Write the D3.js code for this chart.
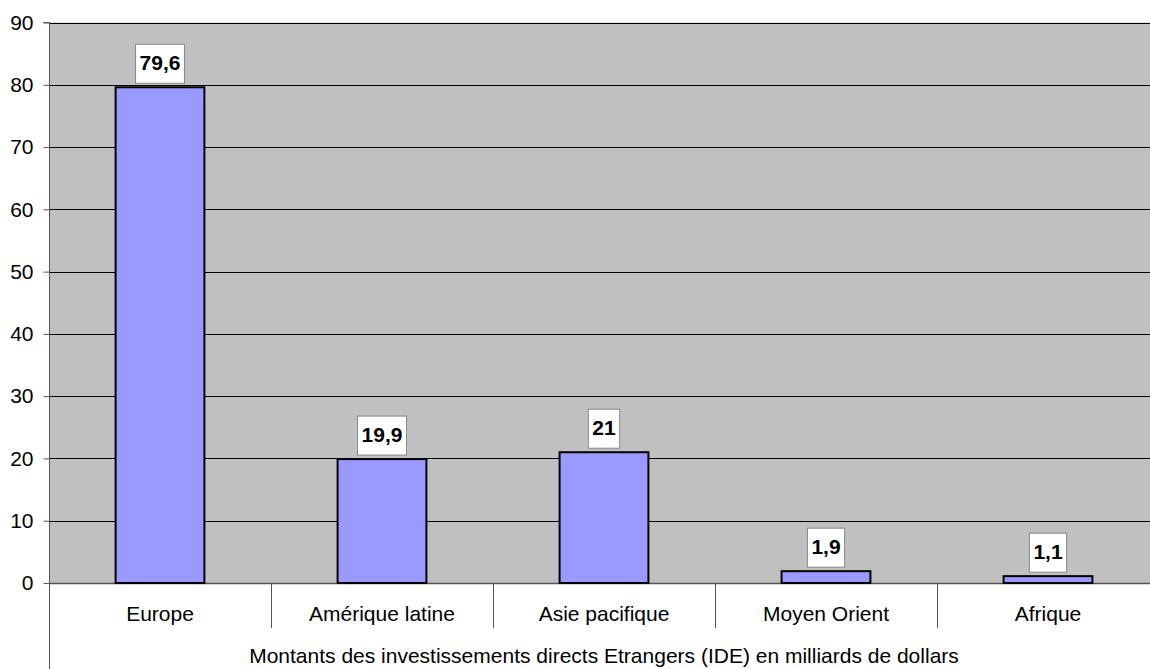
<!DOCTYPE html>
<html>
<head>
<meta charset="utf-8">
<script src="https://cdn.jsdelivr.net/npm/d3@7"></script>
<style>
  body { margin: 0; background: #fff; }
  svg { display: block; font-family: Arial, "Liberation Sans", sans-serif; }
</style>
</head>
<body>
<div id="chart"></div>
<script>
// Chart data
const categories = ["Europe", "Amérique latine", "Asie pacifique", "Moyen Orient", "Afrique"];
const values = [79.6, 19.9, 21, 1.9, 1.1];
const yTicks = [0, 10, 20, 30, 40, 50, 60, 70, 80, 90];
const axisTitle = "Montants des investissements directs Etrangers (IDE) en milliards de dollars";

const width = 1150, height = 669;
const plot = { left: 49, right: 1159, top: 22.5, bottom: 583 };
const fontSize = 21;

const svg = d3.select("#chart").append("svg")
    .attr("width", width)
    .attr("height", height);

const x = d3.scaleBand()
    .domain(categories)
    .range([plot.left, plot.right])
    .paddingInner(0)
    .paddingOuter(0);

const y = d3.scaleLinear()
    .domain([0, 90])
    .range([plot.bottom, plot.top]);

// Plot background
svg.append("rect")
    .attr("x", plot.left)
    .attr("y", plot.top)
    .attr("width", plot.right - plot.left)
    .attr("height", plot.bottom - plot.top)
    .attr("fill", "#c0c0c0");

// Gridlines
svg.append("g")
    .selectAll("line")
    .data(yTicks.filter(d => d > 0))
    .join("line")
    .attr("x1", plot.left)
    .attr("x2", plot.right)
    .attr("y1", d => Math.round(y(d)) + 0.5)
    .attr("y2", d => Math.round(y(d)) + 0.5)
    .attr("stroke", "#000")
    .attr("stroke-width", 1);

// Y axis
const yAxis = svg.append("g")
    .attr("transform", `translate(${plot.left + 0.5},0)`)
    .call(d3.axisLeft(y).tickValues(yTicks).tickSize(6).tickPadding(10).tickFormat(d3.format("d")));
yAxis.select(".domain").attr("stroke", "#555").attr("d", `M-6,${y(90)}H0V${height}`);
yAxis.selectAll(".tick line").attr("stroke", "#555");
yAxis.selectAll(".tick text")
    .attr("font-size", fontSize)
    .attr("font-family", "Arial, 'Liberation Sans', sans-serif")
    .attr("fill", "#000");

// Baseline
svg.append("line")
    .attr("x1", plot.left)
    .attr("x2", plot.right)
    .attr("y1", plot.bottom + 0.5)
    .attr("y2", plot.bottom + 0.5)
    .attr("stroke", "#555")
    .attr("stroke-width", 1.5);

// Category separators
svg.append("g")
    .selectAll("line")
    .data(categories.slice(1))
    .join("line")
    .attr("x1", d => Math.round(x(d)) + 0.5)
    .attr("x2", d => Math.round(x(d)) + 0.5)
    .attr("y1", plot.bottom)
    .attr("y2", 628)
    .attr("stroke", "#555");

// Bars
const barW = x.bandwidth() * 0.4;
svg.append("g")
    .selectAll("rect")
    .data(values)
    .join("rect")
    .attr("x", (d, i) => x(categories[i]) + (x.bandwidth() - barW) / 2)
    .attr("y", d => y(d))
    .attr("width", barW)
    .attr("height", d => plot.bottom - y(d))
    .attr("fill", "#9999ff")
    .attr("stroke", "#000")
    .attr("stroke-width", 2);

// Value labels with white boxes
const labels = svg.append("g")
    .selectAll("g")
    .data(values)
    .join("g")
    .attr("transform", (d, i) => `translate(${x(categories[i]) + x.bandwidth() / 2},${y(d) - 4})`);

labels.each(function (d) {
    const g = d3.select(this);
    const t = g.append("text")
        .attr("text-anchor", "middle")
        .attr("y", -13)
        .attr("font-size", fontSize)
        .attr("font-weight", "bold")
        .attr("fill", "#000")
        .text(String(d).replace(".", ","));
    const w = t.node().getComputedTextLength() + 8;
    g.insert("rect", "text")
        .attr("x", -w / 2)
        .attr("y", -39)
        .attr("width", w)
        .attr("height", 39)
        .attr("fill", "#fff")
        .attr("stroke", "#888")
        .attr("stroke-width", 1);
});

// Category labels
svg.append("g")
    .selectAll("text")
    .data(categories)
    .join("text")
    .attr("x", d => x(d) + x.bandwidth() / 2)
    .attr("y", 621)
    .attr("text-anchor", "middle")
    .attr("font-size", fontSize)
    .attr("fill", "#000")
    .text(d => d);

// Axis title
svg.append("text")
    .attr("x", (plot.left + plot.right) / 2)
    .attr("y", 663)
    .attr("text-anchor", "middle")
    .attr("font-size", fontSize)
    .attr("fill", "#000")
    .text(axisTitle);
</script>
</body>
</html>
